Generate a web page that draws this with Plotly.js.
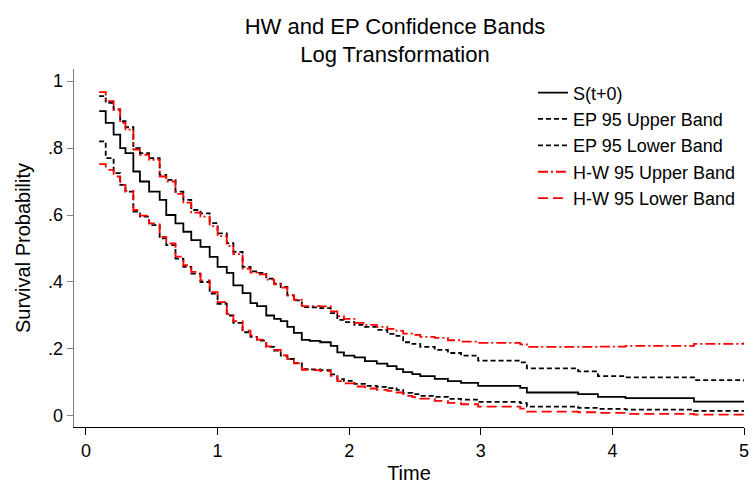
<!DOCTYPE html>
<html>
<head>
<meta charset="utf-8">
<script src="https://cdn.plot.ly/plotly-3.0.1.min.js"></script>
<style>html,body{margin:0;padding:0;background:#fff;}#chart{width:755px;height:484px;}</style>
</head>
<body>
<div id="chart"></div>
<script>
// Shared event times
var time = [0.10,0.15,0.21,0.26,0.30,0.36,0.41,0.48,0.56,0.61,0.68,0.74,0.80,0.87,0.94,1.00,1.07,1.12,1.19,1.25,1.30,1.37,1.43,1.48,1.53,1.58,1.64,1.70,1.78,1.86,1.91,1.96,2.04,2.12,2.21,2.29,2.36,2.41,2.48,2.54,2.65,2.75,2.85,2.98,3.30,3.35,3.74,3.89,4.10,4.62,5.00];

var survival = [0.91,0.875,0.84,0.80,0.785,0.73,0.70,0.67,0.645,0.60,0.575,0.55,0.525,0.505,0.475,0.445,0.427,0.39,0.367,0.337,0.328,0.30,0.29,0.283,0.266,0.248,0.227,0.224,0.22,0.209,0.19,0.18,0.175,0.164,0.156,0.149,0.14,0.131,0.125,0.119,0.111,0.104,0.099,0.09,0.084,0.07,0.065,0.057,0.053,0.043,0.042];

var epUpper = [0.955,0.935,0.915,0.88,0.862,0.80,0.785,0.77,0.72,0.705,0.67,0.645,0.615,0.605,0.576,0.545,0.516,0.49,0.445,0.432,0.427,0.41,0.395,0.385,0.36,0.345,0.325,0.324,0.322,0.307,0.287,0.28,0.272,0.266,0.257,0.245,0.239,0.22,0.215,0.206,0.197,0.188,0.18,0.165,0.16,0.142,0.133,0.119,0.115,0.107,0.103];

var epLower = [0.82,0.77,0.725,0.69,0.67,0.61,0.595,0.57,0.53,0.51,0.47,0.445,0.425,0.40,0.365,0.335,0.30,0.278,0.25,0.236,0.225,0.206,0.195,0.18,0.17,0.158,0.14,0.139,0.137,0.124,0.11,0.105,0.096,0.09,0.087,0.083,0.078,0.069,0.065,0.06,0.057,0.051,0.049,0.042,0.038,0.028,0.024,0.021,0.019,0.015,0.013];

var hwUpper = [0.967,0.94,0.915,0.875,0.855,0.795,0.78,0.765,0.715,0.70,0.663,0.637,0.607,0.595,0.567,0.537,0.508,0.483,0.44,0.428,0.423,0.407,0.393,0.383,0.36,0.347,0.328,0.328,0.327,0.312,0.298,0.29,0.278,0.272,0.266,0.26,0.254,0.246,0.242,0.236,0.233,0.226,0.222,0.218,0.214,0.206,0.206,0.207,0.209,0.215,0.22];

var hwLower = [0.752,0.735,0.715,0.69,0.672,0.615,0.598,0.575,0.535,0.515,0.476,0.45,0.43,0.405,0.37,0.34,0.305,0.283,0.255,0.24,0.228,0.208,0.197,0.181,0.17,0.157,0.138,0.137,0.134,0.12,0.104,0.097,0.088,0.082,0.078,0.075,0.07,0.06,0.056,0.052,0.045,0.039,0.035,0.028,0.022,0.013,0.011,0.009,0.006,0.004,0.002];

var yTickVals = [0,0.2,0.4,0.6,0.8,1];
var yTickText = ["0",".2",".4",".6",".8","1"];
var xTickVals = [0,1,2,3,4,5];

var font = "Liberation Sans, Arial, Helvetica, sans-serif";

function tr(y, name, color, dash, grp){
  return {x: time, y: y, name: name, type: 'scatter', mode: 'lines',
          line: {shape: 'hv', color: color, width: 1.8, dash: dash},
          legendgroup: grp};
}

var data = [
  tr(survival, 'S(t+0)', '#000000', 'solid', 'a'),
  tr(epUpper, 'EP 95 Upper Band', '#000000', '5px,3px', 'b'),
  tr(epLower, 'EP 95 Lower Band', '#000000', '5px,3px', 'c'),
  tr(hwUpper, 'H-W 95 Upper Band', '#ff0000', '10px,3px,2px,3px', 'd'),
  tr(hwLower, 'H-W 95 Lower Band', '#ff0000', '10px,5px', 'e')
];

var layout = {
  width: 755, height: 484,
  paper_bgcolor: '#ffffff', plot_bgcolor: '#ffffff',
  font: {family: font, size: 18, color: '#000'},
  margin: {l: 74, r: 11, t: 69, b: 57},
  title: {text: 'HW and EP Confidence Bands<br>Log Transformation',
          font: {family: font, size: 22, color: '#000'},
          x: 0.479, xanchor: 'center', xref: 'paper', y: 0.93, yanchor: 'top'},
  xaxis: {range: [-0.091, 5.0], tickvals: xTickVals, ticks: 'outside', ticklen: 7,
          tickcolor: '#000', showline: true, linecolor: '#000', linewidth: 1.2,
          showgrid: false, zeroline: false, tickfont: {size: 18},
          title: {text: 'Time', font: {size: 20}, standoff: 24}},
  yaxis: {range: [-0.033, 1.036], tickvals: yTickVals, ticktext: yTickText,
          ticks: 'outside', ticklen: 6, tickcolor: '#808080',
          showline: true, linecolor: '#808080', linewidth: 1.5,
          showgrid: false, zeroline: false, tickfont: {size: 18},
          title: {text: 'Survival Probability', font: {size: 20}, standoff: 12}},
  legend: {x: 0.685, xanchor: 'left', y: 0.985, yanchor: 'top',
           traceorder: 'grouped', tracegroupgap: 0,
           font: {size: 18}, bgcolor: 'rgba(0,0,0,0)'},
  showlegend: true
};

Plotly.newPlot('chart', data, layout, {displayModeBar: false, staticPlot: true});
</script>
</body>
</html>
